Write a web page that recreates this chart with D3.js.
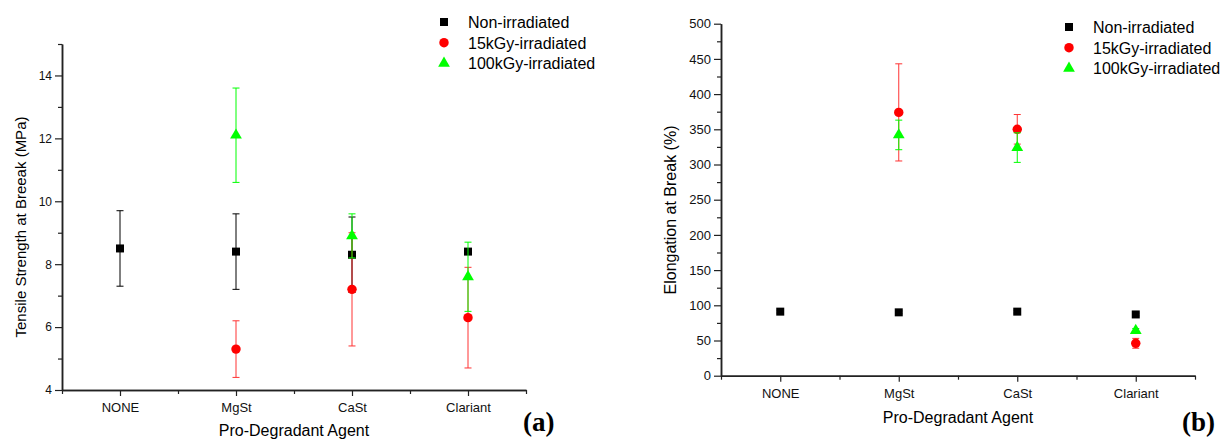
<!DOCTYPE html>
<html>
<head>
<meta charset="utf-8">
<script src="https://cdn.jsdelivr.net/npm/d3@7"></script>
<style>
  body { margin: 0; background: #fff; }
  svg { font-family: "Liberation Sans", Arial, sans-serif; }
</style>
</head>
<body>
<svg id="chart" width="1226" height="439"></svg>
<script>
// Categories and series names.
const categories = ['NONE', 'MgSt', 'CaSt', 'Clariant'];
const seriesNames = ['Non-irradiated', '15kGy-irradiated', '100kGy-irradiated'];

// (a) Tensile strength at break (MPa), with +/- errors.
const tensileNon = [8.5, 8.4, 8.3, 8.4];
const tensileNonErr = [1.2, 1.2, 1.2, 0];
const tensile15 = [null, 5.3, 7.2, 6.3];
const tensile15Err = [null, 0.9, 1.8, 1.6];
const tensile100 = [null, 12.1, 8.9, 7.6];
const tensile100Err = [null, 1.5, 0.7, 1.1];

// (b) Elongation at break (%), with +/- errors.
const elongNon = [91, 90, 91, 87];
const elongNonErr = [2, 2, 2, 2];
const elong15 = [null, 374, 350, 46];
const elong15Err = [null, 69, 21, 7];
const elong100 = [null, 342, 324, 64];
const elong100Err = [null, 21, 21, 3];

// Tick values.
const tensileTicks = [4, 6, 8, 10, 12, 14];
const tensileMinor = [5, 7, 9, 11, 13, 15];
const elongTicks = d3.range(0, 501, 50);
const elongMinor = d3.range(25, 500, 50);

const colors = ['#000000', '#ff0000', '#00ff00'];
const symbols = [d3.symbolSquare, d3.symbolCircle, d3.symbolTriangle];
const symbolSizes = [64, 70, 60];

const svg = d3.select('#chart');

const drawPanel = (opts) => {
  const g = svg.append('g');

  const x = d3.scaleLinear().domain([0.5, 4.5]).range(opts.xRange);
  const y = d3.scaleLinear().domain(opts.yDomain).range(opts.yRange);

  // Bottom axis, major + minor ticks.
  const xAxis = g.append('g')
    .attr('transform', `translate(0, ${opts.yRange[0]})`)
    .call(d3.axisBottom(x).tickValues([1, 2, 3, 4])
      .tickFormat(i => categories[i - 1]).tickSize(6).tickPadding(7).tickSizeOuter(0));
  xAxis.append('g')
    .call(d3.axisBottom(x).tickValues([0.5, 1.5, 2.5, 3.5, 4.5]).tickFormat('').tickSize(4).tickSizeOuter(0));
  xAxis.selectAll('text').style('font-size', '13px').style('fill', '#111');

  // Left axis, major + minor ticks.
  const yAxis = g.append('g')
    .attr('transform', `translate(${opts.xRange[0]}, 0)`)
    .call(d3.axisLeft(y).tickValues(opts.ticks).tickSize(7).tickPadding(3).tickSizeOuter(0));
  yAxis.append('g')
    .call(d3.axisLeft(y).tickValues(opts.minor).tickFormat('').tickSize(4).tickSizeOuter(0));
  yAxis.selectAll('text').style('font-size', opts.yFont).style('fill', '#111');

  g.selectAll('.domain').attr('stroke', '#222').attr('stroke-width', 1.5);
  g.selectAll('.tick line').attr('stroke', '#222').attr('stroke-width', 1.2);

  // Axis titles.
  g.append('text')
    .attr('x', (opts.xRange[0] + opts.xRange[1]) / 2)
    .attr('y', opts.xTitleY)
    .attr('text-anchor', 'middle')
    .style('font-size', '16px')
    .text('Pro-Degradant Agent');

  g.append('text')
    .attr('transform', `translate(${opts.yTitleX}, ${opts.yTitleY}) rotate(-90)`)
    .attr('text-anchor', 'middle')
    .style('font-size', opts.yTitleFont)
    .text(opts.yTitle);

  // Series: error bars first, then the marker.
  opts.series.forEach((s, si) => {
    const pts = s.values
      .map((v, i) => ({ i: i + 1, v, e: s.errors[i] }))
      .filter(d => d.v !== null);

    const sg = g.append('g');
    const bars = sg.selectAll('g.err').data(pts.filter(d => d.e > 0)).enter()
      .append('g').classed('err', true)
      .attr('stroke', colors[si]).attr('stroke-width', 1).attr('opacity', si === 1 ? 0.8 : 1);
    bars.append('line')
      .attr('x1', d => x(d.i)).attr('x2', d => x(d.i))
      .attr('y1', d => y(d.v - d.e)).attr('y2', d => y(d.v + d.e));
    [-1, 1].forEach(sign => {
      bars.append('line')
        .attr('x1', d => x(d.i) - 3.5).attr('x2', d => x(d.i) + 3.5)
        .attr('y1', d => y(d.v + sign * d.e)).attr('y2', d => y(d.v + sign * d.e));
    });

    sg.selectAll('path.mark').data(pts).enter()
      .append('path').classed('mark', true)
      .attr('transform', d => `translate(${x(d.i)}, ${y(d.v)})`)
      .attr('d', d3.symbol().type(symbols[si]).size(symbolSizes[si]))
      .attr('fill', colors[si]);
  });

  // Legend.
  const legend = g.append('g')
    .selectAll('g').data(seriesNames).enter()
    .append('g')
    .attr('transform', (d, i) => `translate(${opts.legendX}, ${opts.legendY + i * 20.7})`);
  legend.append('path')
    .attr('d', (d, i) => d3.symbol().type(symbols[i]).size(symbolSizes[i])())
    .attr('fill', (d, i) => colors[i]);
  legend.append('text')
    .attr('x', 24).attr('y', 6)
    .style('font-size', '16px')
    .text(d => d);

  // Panel letter.
  g.append('text')
    .attr('x', opts.letterX).attr('y', 431)
    .style('font-family', '"Liberation Serif", "Times New Roman", serif')
    .style('font-weight', 'bold')
    .style('font-size', '27px')
    .text(opts.letter);
};

drawPanel({
  xRange: [62, 526],
  yRange: [390, 44],
  yDomain: [4, 15],
  ticks: tensileTicks,
  minor: tensileMinor,
  yFont: '12px',
  yTitle: 'Tensile Strength at Breeak (MPa)',
  yTitleFont: '15px',
  yTitleX: 26,
  yTitleY: 227,
  xTitleY: 436,
  legendX: 444,
  legendY: 22,
  letter: '(a)',
  letterX: 523,
  series: [
    { values: tensileNon, errors: tensileNonErr },
    { values: tensile15, errors: tensile15Err },
    { values: tensile100, errors: tensile100Err }
  ]
});

drawPanel({
  xRange: [721, 1195],
  yRange: [375.7, 23.7],
  yDomain: [0, 500],
  ticks: elongTicks,
  minor: elongMinor,
  yFont: '13px',
  yTitle: 'Elongation at Break (%)',
  yTitleFont: '16px',
  yTitleX: 676,
  yTitleY: 210,
  xTitleY: 423,
  legendX: 1069,
  legendY: 27,
  letter: '(b)',
  letterX: 1182,
  series: [
    { values: elongNon, errors: elongNonErr },
    { values: elong15, errors: elong15Err },
    { values: elong100, errors: elong100Err }
  ]
});
</script>
</body>
</html>
